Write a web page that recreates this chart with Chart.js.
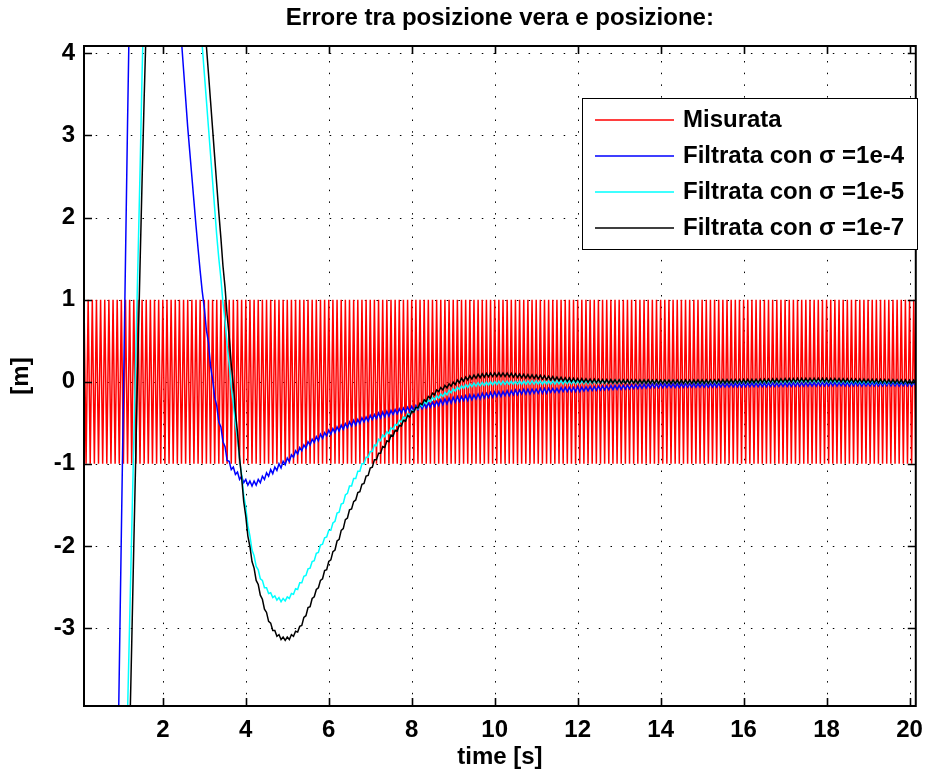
<!DOCTYPE html>
<html><head><meta charset="utf-8">
<script src="https://cdn.jsdelivr.net/npm/chart.js@4.4.1/dist/chart.umd.min.js"></script>
<style>html,body{margin:0;padding:0;background:#fff;overflow:hidden}</style>
</head><body>
<canvas id="c" width="933" height="776" style="display:block;width:933px;height:776px"></canvas>
<script>
const FONT = "'Liberation Sans', Arial, Helvetica, sans-serif";
const titleText = 'Errore tra posizione vera e posizione:';
const xTitle = 'time [s]';
const yTitle = '[m]';
const xTicks = [2, 4, 6, 8, 10, 12, 14, 16, 18, 20];
const yTicks = [-3, -2, -1, 0, 1, 2, 3, 4];
const seriesLabels = ['Misurata', 'Filtrata con σ =1e-4', 'Filtrata con σ =1e-5', 'Filtrata con σ =1e-7'];
const seriesColors = ['#ff0000', '#0000ff', '#00ffff', '#000000'];
// all series share one sampling grid: t = 0.10, 0.15, ... 20.15 s
const tStart = 0.1, tStep = 0.05;

const misurata = [
1,-1,1,-1,1,-1,1,-1,1,-1,1,-1,1,-1,1,-1,1,-1,1,-1,
1,-1,1,-1,1,-1,1,-1,1,-1,1,-1,1,-1,1,-1,1,-1,1,-1,
1,-1,1,-1,1,-1,1,-1,1,-1,1,-1,1,-1,1,-1,1,-1,1,-1,
1,-1,1,-1,1,-1,1,-1,1,-1,1,-1,1,-1,1,-1,1,-1,1,-1,
1,-1,1,-1,1,-1,1,-1,1,-1,1,-1,1,-1,1,-1,1,-1,1,-1,
1,-1,1,-1,1,-1,1,-1,1,-1,1,-1,1,-1,1,-1,1,-1,1,-1,
1,-1,1,-1,1,-1,1,-1,1,-1,1,-1,1,-1,1,-1,1,-1,1,-1,
1,-1,1,-1,1,-1,1,-1,1,-1,1,-1,1,-1,1,-1,1,-1,1,-1,
1,-1,1,-1,1,-1,1,-1,1,-1,1,-1,1,-1,1,-1,1,-1,1,-1,
1,-1,1,-1,1,-1,1,-1,1,-1,1,-1,1,-1,1,-1,1,-1,1,-1,
1,-1,1,-1,1,-1,1,-1,1,-1,1,-1,1,-1,1,-1,1,-1,1,-1,
1,-1,1,-1,1,-1,1,-1,1,-1,1,-1,1,-1,1,-1,1,-1,1,-1,
1,-1,1,-1,1,-1,1,-1,1,-1,1,-1,1,-1,1,-1,1,-1,1,-1,
1,-1,1,-1,1,-1,1,-1,1,-1,1,-1,1,-1,1,-1,1,-1,1,-1,
1,-1,1,-1,1,-1,1,-1,1,-1,1,-1,1,-1,1,-1,1,-1,1,-1,
1,-1,1,-1,1,-1,1,-1,1,-1,1,-1,1,-1,1,-1,1,-1,1,-1,
1,-1,1,-1,1,-1,1,-1,1,-1,1,-1,1,-1,1,-1,1,-1,1,-1,
1,-1,1,-1,1,-1,1,-1,1,-1,1,-1,1,-1,1,-1,1,-1,1,-1,
1,-1,1,-1,1,-1,1,-1,1,-1,1,-1,1,-1,1,-1,1,-1,1,-1,
1,-1,1,-1,1,-1,1,-1,1,-1,1,-1,1,-1,1,-1,1,-1,1,-1,
1,-1
];

const filt1e4 = [
null,null,null,null,null,null,null,null,null,null,null,null,null,null,null,null,-5.2,-3.54,-1.86,-0.19,
1.49,3.16,4.7,6.0,7.0,7.7,8.2,8.5,8.7,8.8,8.8,8.7,8.6,8.45,8.3,8.1,7.9,7.7,7.5,7.25,
6.95,6.6,6.2,5.8,5.4,4.95,4.5,4.15,3.8,3.45,3.1,2.8,2.5,2.2,1.9,1.62,1.35,1.1,0.90,0.63,
0.48,0.19,0.03,-0.19,-0.29,-0.49,-0.55,-0.73,-0.79,-0.96,-0.97,-1.07,-1.04,-1.13,-1.10,-1.19,-1.15,-1.23,-1.19,-1.26,
-1.21,-1.27,-1.21,-1.26,-1.19,-1.23,-1.15,-1.19,-1.11,-1.15,-1.07,-1.12,-1.04,-1.08,-1.00,-1.05,-0.97,-1.01,-0.93,-0.97,
-0.89,-0.92,-0.84,-0.88,-0.80,-0.84,-0.77,-0.81,-0.73,-0.77,-0.70,-0.74,-0.67,-0.72,-0.64,-0.69,-0.62,-0.66,-0.59,-0.64,
-0.57,-0.62,-0.55,-0.60,-0.53,-0.58,-0.51,-0.56,-0.49,-0.54,-0.47,-0.53,-0.46,-0.51,-0.44,-0.49,-0.43,-0.48,-0.41,-0.46,
-0.40,-0.45,-0.38,-0.44,-0.37,-0.43,-0.36,-0.42,-0.35,-0.40,-0.34,-0.39,-0.33,-0.38,-0.32,-0.37,-0.31,-0.36,-0.30,-0.35,
-0.29,-0.34,-0.28,-0.33,-0.27,-0.32,-0.26,-0.31,-0.25,-0.30,-0.24,-0.29,-0.22,-0.28,-0.21,-0.27,-0.20,-0.26,-0.19,-0.25,
-0.18,-0.24,-0.18,-0.23,-0.17,-0.23,-0.16,-0.22,-0.16,-0.21,-0.15,-0.21,-0.14,-0.20,-0.14,-0.19,-0.13,-0.19,-0.125,-0.18,
-0.12,-0.18,-0.12,-0.17,-0.11,-0.17,-0.11,-0.16,-0.10,-0.16,-0.10,-0.15,-0.09,-0.15,-0.09,-0.15,-0.09,-0.14,-0.09,-0.14,
-0.08,-0.14,-0.08,-0.14,-0.08,-0.13,-0.08,-0.13,-0.08,-0.13,-0.07,-0.12,-0.07,-0.12,-0.07,-0.12,-0.07,-0.12,-0.06,-0.12,
-0.065,-0.113,-0.063,-0.11,-0.06,-0.108,-0.058,-0.105,-0.055,-0.103,-0.053,-0.10,-0.05,-0.098,-0.048,-0.095,-0.045,-0.093,-0.045,-0.093,
-0.043,-0.09,-0.04,-0.088,-0.038,-0.085,-0.035,-0.083,-0.033,-0.08,-0.03,-0.078,-0.028,-0.075,-0.026,-0.073,-0.025,-0.072,-0.024,-0.072,
-0.026,-0.07,-0.026,-0.07,-0.025,-0.069,-0.025,-0.069,-0.025,-0.069,-0.024,-0.068,-0.024,-0.068,-0.024,-0.068,-0.023,-0.067,-0.023,-0.067,
-0.023,-0.067,-0.022,-0.066,-0.022,-0.066,-0.021,-0.065,-0.021,-0.065,-0.02,-0.064,-0.02,-0.064,-0.019,-0.063,-0.019,-0.063,-0.018,-0.062,
-0.018,-0.062,-0.017,-0.061,-0.017,-0.061,-0.016,-0.060,-0.016,-0.060,-0.015,-0.059,-0.015,-0.059,-0.014,-0.058,-0.014,-0.058,-0.013,-0.057,
-0.013,-0.057,-0.012,-0.056,-0.012,-0.056,-0.011,-0.055,-0.011,-0.055,-0.010,-0.054,-0.010,-0.054,-0.009,-0.053,-0.009,-0.053,-0.008,-0.052,
-0.006,-0.051,-0.009,-0.053,-0.007,-0.050,-0.010,-0.052,-0.008,-0.054,-0.006,-0.051,-0.009,-0.050,-0.007,-0.053,-0.008,-0.051,-0.010,-0.052,
-0.008,-0.052,-0.007,-0.051,-0.009,-0.053,-0.008,-0.050,-0.006,-0.052,-0.009,-0.051,-0.007,-0.053,-0.008,-0.050,-0.010,-0.052,-0.007,-0.051,
-0.008,-0.052
];

const filt1e5 = [
null,null,null,null,null,null,null,null,null,null,null,null,null,null,null,null,null,null,null,-6.2,
-5.1,-4.03,-2.93,-1.83,-0.73,0.37,1.45,2.55,3.75,4.75,5.6,6.3,6.9,7.4,7.8,8.1,8.3,8.4,8.4,8.3,
8.2,8.05,7.85,7.6,7.35,7.1,6.85,6.65,6.45,6.25,6.0,5.8,5.6,5.4,5.1,4.75,4.42,4.09,3.76,3.43,
3.10,2.77,2.44,2.11,1.78,1.50,1.26,0.96,0.74,0.44,0.22,-0.07,-0.26,-0.52,-0.70,-0.95,-1.13,-1.38,-1.53,-1.75,
-1.88,-2.05,-2.12,-2.25,-2.29,-2.40,-2.42,-2.51,-2.51,-2.58,-2.57,-2.63,-2.61,-2.66,-2.63,-2.68,-2.64,-2.67,-2.62,-2.64,
-2.58,-2.59,-2.52,-2.53,-2.45,-2.45,-2.37,-2.36,-2.28,-2.27,-2.19,-2.18,-2.09,-2.08,-1.99,-1.98,-1.90,-1.89,-1.81,-1.81,
-1.72,-1.70,-1.60,-1.59,-1.49,-1.48,-1.38,-1.36,-1.27,-1.27,-1.18,-1.18,-1.09,-1.09,-1.00,-1.00,-0.92,-0.92,-0.85,-0.85,
-0.77,-0.78,-0.70,-0.72,-0.65,-0.67,-0.61,-0.63,-0.56,-0.58,-0.52,-0.53,-0.47,-0.49,-0.43,-0.45,-0.39,-0.41,-0.35,-0.37,
-0.31,-0.33,-0.27,-0.30,-0.24,-0.27,-0.22,-0.245,-0.19,-0.22,-0.17,-0.20,-0.15,-0.18,-0.13,-0.16,-0.105,-0.135,-0.085,-0.115,
-0.065,-0.095,-0.048,-0.08,-0.035,-0.07,-0.025,-0.06,-0.017,-0.054,-0.012,-0.05,-0.008,-0.046,-0.004,-0.042,0.0,-0.038,0.004,-0.035,
0.006,-0.034,0.007,-0.033,0.007,-0.033,0.008,-0.032,0.008,-0.032,0.009,-0.031,0.009,-0.031,0.010,-0.030,0.010,-0.030,0.010,-0.030,
0.010,-0.030,0.011,-0.029,0.012,-0.028,0.012,-0.028,0.013,-0.027,0.013,-0.027,0.014,-0.026,0.014,-0.026,0.015,-0.025,0.015,-0.025,
0.015,-0.024,0.016,-0.024,0.017,-0.023,0.017,-0.023,0.018,-0.022,0.018,-0.022,0.019,-0.021,0.019,-0.021,0.020,-0.020,0.020,-0.020,
0.019,-0.021,0.018,-0.022,0.019,-0.021,0.018,-0.022,0.017,-0.023,0.018,-0.022,0.017,-0.023,0.016,-0.024,0.017,-0.023,0.016,-0.024,
0.016,-0.024,0.017,-0.023,0.016,-0.024,0.015,-0.025,0.016,-0.024,0.015,-0.025,0.016,-0.024,0.015,-0.025,0.016,-0.024,0.015,-0.025,
0.016,-0.024,0.017,-0.023,0.016,-0.024,0.017,-0.023,0.018,-0.022,0.017,-0.023,0.018,-0.022,0.019,-0.021,0.018,-0.022,0.019,-0.021,
0.020,-0.020,0.019,-0.021,0.020,-0.020,0.021,-0.019,0.020,-0.020,0.021,-0.019,0.022,-0.018,0.021,-0.019,0.022,-0.018,0.023,-0.017,
0.024,-0.016,0.025,-0.015,0.026,-0.014,0.027,-0.013,0.027,-0.013,0.028,-0.012,0.028,-0.012,0.027,-0.013,0.027,-0.013,0.026,-0.014,
0.025,-0.015,0.024,-0.016,0.023,-0.017,0.022,-0.018,0.021,-0.019,0.020,-0.020,0.019,-0.021,0.018,-0.022,0.018,-0.022,0.017,-0.023,
0.017,-0.023,0.016,-0.024,0.016,-0.024,0.015,-0.025,0.016,-0.024,0.015,-0.025,0.016,-0.024,0.015,-0.025,0.014,-0.026,0.015,-0.025,
0.014,-0.026
];

const filt1e7 = [
null,null,null,null,null,null,null,null,null,null,null,null,null,null,null,null,null,null,null,null,
-6.6,-5.5,-4.35,-3.2,-2.0,-0.85,0.3,1.4,2.45,3.45,4.35,5.15,5.85,6.45,6.95,7.4,7.75,8.05,8.3,8.5,
8.6,8.65,8.6,8.5,8.35,8.15,7.95,7.7,7.45,7.2,6.95,6.7,6.4,6.1,5.8,5.45,5.1,4.76,4.43,4.09,
3.76,3.42,3.08,2.74,2.40,2.06,1.75,1.41,1.15,0.81,0.55,0.21,-0.04,-0.37,-0.61,-0.93,-1.17,-1.46,-1.64,-1.88,
-2.01,-2.19,-2.27,-2.42,-2.47,-2.60,-2.65,-2.77,-2.81,-2.92,-2.94,-3.03,-3.03,-3.10,-3.08,-3.14,-3.11,-3.15,-3.11,-3.14,
-3.08,-3.10,-3.04,-3.05,-2.98,-2.97,-2.87,-2.85,-2.75,-2.74,-2.64,-2.62,-2.53,-2.51,-2.42,-2.40,-2.30,-2.29,-2.19,-2.17,
-2.07,-2.05,-1.94,-1.92,-1.81,-1.79,-1.68,-1.66,-1.56,-1.55,-1.46,-1.44,-1.35,-1.34,-1.25,-1.24,-1.15,-1.14,-1.05,-1.04,
-0.95,-0.95,-0.87,-0.87,-0.79,-0.80,-0.72,-0.73,-0.65,-0.66,-0.59,-0.60,-0.53,-0.54,-0.47,-0.48,-0.41,-0.43,-0.36,-0.37,
-0.31,-0.32,-0.26,-0.28,-0.22,-0.24,-0.18,-0.20,-0.14,-0.16,-0.10,-0.12,-0.07,-0.10,-0.045,-0.075,-0.025,-0.055,-0.005,-0.035,
0.022,-0.012,0.042,0.006,0.058,0.021,0.072,0.033,0.082,0.042,0.09,0.05,0.097,0.056,0.102,0.06,0.106,0.063,0.108,0.065,
0.109,0.065,0.108,0.063,0.106,0.06,0.102,0.056,0.098,0.052,0.094,0.048,0.09,0.045,0.087,0.042,0.084,0.039,0.081,0.036,
0.078,0.032,0.073,0.027,0.068,0.022,0.063,0.017,0.058,0.012,0.054,0.008,0.05,0.004,0.047,0.001,0.043,-0.002,0.04,-0.005,
0.038,-0.007,0.036,-0.009,0.034,-0.011,0.032,-0.013,0.03,-0.015,0.028,-0.016,0.027,-0.017,0.026,-0.018,0.025,-0.019,0.025,-0.019,
0.025,-0.019,0.024,-0.020,0.025,-0.019,0.024,-0.020,0.023,-0.021,0.024,-0.020,0.023,-0.021,0.022,-0.022,0.023,-0.021,0.022,-0.022,
0.022,-0.022,0.021,-0.023,0.022,-0.022,0.021,-0.023,0.022,-0.022,0.023,-0.021,0.022,-0.022,0.023,-0.021,0.024,-0.020,0.024,-0.020,
0.024,-0.020,0.025,-0.019,0.025,-0.019,0.026,-0.018,0.026,-0.018,0.027,-0.017,0.027,-0.017,0.028,-0.016,0.028,-0.016,0.029,-0.015,
0.029,-0.015,0.030,-0.014,0.031,-0.013,0.032,-0.012,0.033,-0.011,0.034,-0.010,0.035,-0.009,0.036,-0.008,0.037,-0.007,0.038,-0.006,
0.039,-0.005,0.040,-0.004,0.041,-0.003,0.042,-0.002,0.042,-0.002,0.043,-0.001,0.043,-0.001,0.043,-0.001,0.042,-0.002,0.042,-0.002,
0.041,-0.003,0.040,-0.004,0.039,-0.005,0.038,-0.006,0.037,-0.007,0.036,-0.008,0.035,-0.009,0.034,-0.010,0.033,-0.011,0.032,-0.012,
0.031,-0.013,0.030,-0.014,0.029,-0.015,0.028,-0.016,0.027,-0.017,0.026,-0.018,0.025,-0.019,0.024,-0.020,0.023,-0.021,0.022,-0.022,
0.022,-0.022
];

const toXY = arr => arr.map((v, i) => ({ x: Math.round((tStart + i * tStep) * 100) / 100, y: v }));
const allSeries = [misurata, filt1e4, filt1e5, filt1e7];

const datasets = allSeries.map((arr, i) => ({
  label: seriesLabels[i],
  data: toXY(arr),
  borderColor: seriesColors[i],
  backgroundColor: seriesColors[i],
  borderWidth: i === 0 ? 1.5 : 1.5,
  pointRadius: 0,
  tension: 0,
  fill: false,
  spanGaps: false,
  order: 4 - i
}));

const tickFont = { family: FONT, size: 24, weight: 'bold' };

const deco = {
  id: 'deco',
  beforeDraw(chart) {
    const ctx = chart.ctx;
    ctx.save();
    ctx.fillStyle = '#fff';
    ctx.fillRect(0, 0, chart.width, chart.height);
    ctx.restore();
  },
  beforeDatasetsDraw(chart) {
    const ctx = chart.ctx, a = chart.chartArea, xs = chart.scales.x, ys = chart.scales.y;
    ctx.save();
    ctx.strokeStyle = '#000';
    ctx.lineWidth = 1;
    ctx.setLineDash([1.5, 10.2]);
    xTicks.forEach(v => {
      const px = Math.round(xs.getPixelForValue(v)) + 0.5;
      ctx.beginPath(); ctx.moveTo(px, a.bottom); ctx.lineTo(px, a.top); ctx.stroke();
    });
    yTicks.forEach(v => {
      const py = Math.round(ys.getPixelForValue(v)) + 0.5;
      ctx.beginPath(); ctx.moveTo(a.left, py); ctx.lineTo(a.right, py); ctx.stroke();
    });
    ctx.restore();
  },
  afterDatasetsDraw(chart) {
    const ctx = chart.ctx, a = chart.chartArea, xs = chart.scales.x, ys = chart.scales.y;
    ctx.save();
    ctx.setLineDash([]);
    // axes box
    ctx.strokeStyle = '#000';
    ctx.lineWidth = 2;
    ctx.strokeRect(a.left, a.top, a.right - a.left, a.bottom - a.top);
    // inward tick marks on all sides
    const TL = 8;
    ctx.lineWidth = 1.6;
    xTicks.forEach(v => {
      const px = Math.round(xs.getPixelForValue(v)) + 0.5;
      ctx.beginPath();
      ctx.moveTo(px, a.bottom); ctx.lineTo(px, a.bottom - TL);
      ctx.moveTo(px, a.top); ctx.lineTo(px, a.top + TL);
      ctx.stroke();
    });
    yTicks.forEach(v => {
      const py = Math.round(ys.getPixelForValue(v)) + 0.5;
      ctx.beginPath();
      ctx.moveTo(a.left, py); ctx.lineTo(a.left + TL, py);
      ctx.moveTo(a.right, py); ctx.lineTo(a.right - TL, py);
      ctx.stroke();
    });
    // legend
    const lx = 582.5, ly = 98.5, lw = 335, lh = 151;
    ctx.fillStyle = '#ffffff';
    ctx.fillRect(lx, ly, lw, lh);
    ctx.lineWidth = 1;
    ctx.strokeStyle = '#000000';
    ctx.strokeRect(lx, ly, lw, lh);
    ctx.font = 'bold 24px ' + FONT;
    ctx.textAlign = 'left';
    ctx.textBaseline = 'middle';
    seriesLabels.forEach((label, i) => {
      const y = 120 + i * 36;
      ctx.fillStyle = seriesColors[i];
      ctx.fillRect(595, y - 0.75, 79, 1.5);
      ctx.fillStyle = '#000000';
      ctx.fillText(label, 683, y + 0.5);
    });
    // title
    ctx.textAlign = 'center';
    ctx.textBaseline = 'alphabetic';
    ctx.fillText(titleText, (a.left + a.right) / 2, 25);
    ctx.restore();
  }
};

new Chart(document.getElementById('c'), {
  type: 'line',
  data: { datasets },
  options: {
    responsive: false,
    animation: false,
    devicePixelRatio: 1,
    parsing: false,
    normalized: true,
    layout: { padding: { top: 46, right: 13, bottom: 0, left: 0 } },
    plugins: { legend: { display: false }, tooltip: { enabled: false }, title: { display: false } },
    scales: {
      x: {
        type: 'linear', min: 0.1, max: 20.15,
        afterBuildTicks: s => { s.ticks = xTicks.map(v => ({ value: v })); },
        afterFit: s => { s.height = 70; },
        grid: { display: false, drawTicks: false },
        border: { display: false },
        ticks: { font: tickFont, color: '#000', padding: 10, maxRotation: 0, autoSkip: false },
        title: { display: true, text: xTitle, font: tickFont, color: '#000', padding: { top: 0, bottom: 4 } }
      },
      y: {
        type: 'linear', min: -3.95, max: 4.09,
        afterBuildTicks: s => { s.ticks = yTicks.map(v => ({ value: v })); },
        afterFit: s => { s.width = 84; },
        grid: { display: false, drawTicks: false },
        border: { display: false },
        ticks: { font: tickFont, color: '#000', padding: 9, autoSkip: false },
        title: { display: true, text: yTitle, font: tickFont, color: '#000', padding: { top: 6.6, bottom: 0 } }
      }
    }
  },
  plugins: [deco]
});
</script>
</body></html>
